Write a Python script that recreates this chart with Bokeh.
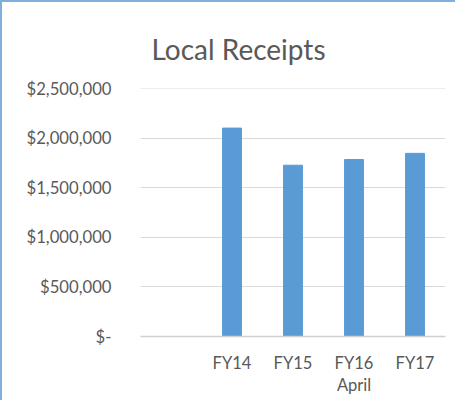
from bokeh.plotting import figure
from bokeh.models import FactorRange, FixedTicker, ColumnDataSource, CategoricalAxis, Title
from bokeh.embed import file_html
from bokeh.resources import INLINE

categories = [" ", "FY14", "FY15", "FY16", "FY17"]
second_line = {"FY16": "April"}
bar_categories = ["FY14", "FY15", "FY16", "FY17"]
receipts = [2105000, 1730000, 1788000, 1850000]
y_ticks = [0, 500000, 1000000, 1500000, 2000000, 2500000]
chart_title = "Local Receipts"

TEXT = "#595959"
FONT = "Lato"

p = figure(width=455, height=400, x_range=FactorRange(*categories, range_padding=0),
           y_range=(0, 2505000), output_backend="svg", toolbar_location=None,
           min_border_left=138, min_border_right=12, min_border_top=86, min_border_bottom=66)
p.title = Title(text=chart_title, align="left", offset=11, standoff=46,
                text_font=FONT, text_font_size="28px", text_color=TEXT,
                text_font_style="normal")
p.outline_line_color = None
p.background_fill_color = "white"
p.border_fill_color = "white"
p.styles = {"border-left": "2px solid #7fb0dd", "border-top": "2px solid #7fb0dd"}

src = ColumnDataSource(dict(x=bar_categories, top=receipts))
p.vbar(x="x", top="top", width=0.31, source=src, color="#5b9bd5")

p.yaxis.ticker = FixedTicker(ticks=y_ticks)
p.yaxis.major_label_overrides = {t: ("$-" if t == 0 else "${:,}".format(t)) for t in y_ticks}
p.yaxis.axis_line_color = None
p.yaxis.major_tick_line_color = None
p.yaxis.minor_tick_line_color = None
p.yaxis.major_label_standoff = 23
p.yaxis.major_label_text_font = FONT
p.yaxis.major_label_text_font_size = "16.7px"
p.yaxis.major_label_text_color = TEXT

p.xaxis.axis_line_color = "#d0d0d0"
p.xaxis.axis_line_width = 1.5
p.xaxis.major_tick_line_color = None
p.xaxis.minor_tick_line_color = None
p.xaxis.major_label_standoff = 10
p.xaxis.major_label_text_font = FONT
p.xaxis.major_label_text_font_size = "16.5px"
p.xaxis.major_label_text_color = TEXT

# second label line (e.g. "April" under FY16) via an aligned extra categorical range
second_factors = [second_line.get(c, " " * (i + 1)) for i, c in enumerate(categories)]
p.extra_x_ranges = {"line2": FactorRange(*second_factors, range_padding=0)}
ax2 = CategoricalAxis(x_range_name="line2", axis_line_color=None, major_tick_line_color=None,
                      minor_tick_line_color=None, major_label_standoff=-7,
                      major_label_text_font=FONT, major_label_text_font_size="16.5px",
                      major_label_text_color=TEXT)
p.add_layout(ax2, "below")

p.xgrid.grid_line_color = None
p.ygrid.grid_line_color = "#d9d9d9"
p.ygrid.grid_line_width = 1.2

open("out.html", "w").write(file_html(p, INLINE))
